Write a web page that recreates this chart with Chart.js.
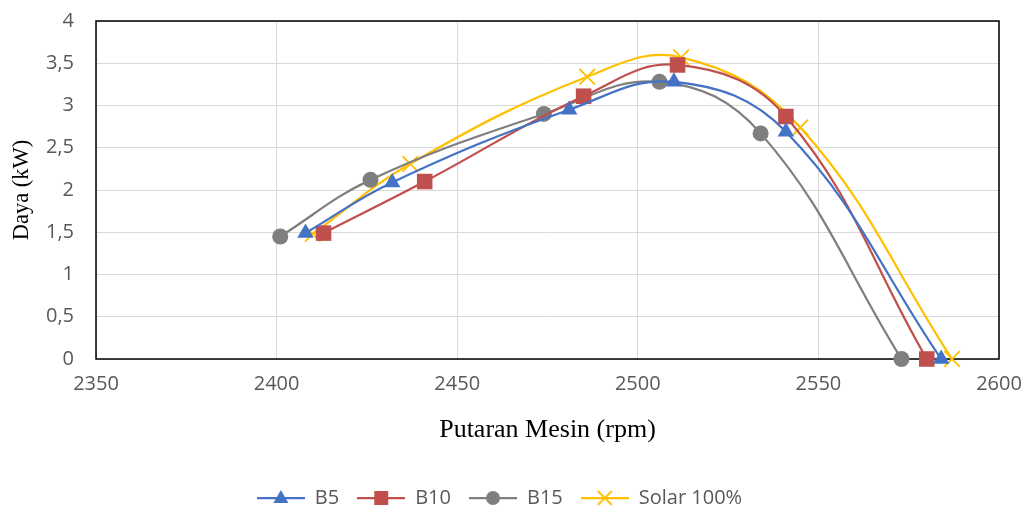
<!DOCTYPE html>
<html>
<head>
<meta charset="utf-8">
<script src="https://cdn.jsdelivr.net/npm/chart.js@4.4.1/dist/chart.umd.min.js"></script>
<style>
  html, body { margin: 0; padding: 0; background: #fff; }
  #wrap { width: 1025px; height: 506px; position: relative; }
</style>
</head>
<body>
<div id="wrap"><canvas id="chart"></canvas></div>
<script>
// Data
const seriesNames = ['B5', 'B10', 'B15', 'Solar 100%'];
const rpmB5 = [2408, 2432, 2481, 2510, 2541, 2584];
const dayaB5 = [1.49, 2.09, 2.95, 3.28, 2.69, 0];
const rpmB10 = [2413, 2441, 2485, 2511, 2541, 2580];
const dayaB10 = [1.49, 2.1, 3.11, 3.48, 2.87, 0];
const rpmB15 = [2401, 2426, 2474, 2506, 2534, 2573];
const dayaB15 = [1.45, 2.12, 2.9, 3.28, 2.67, 0];
const rpmSolar = [2410, 2437, 2486, 2512, 2545, 2587];
const dayaSolar = [1.48, 2.31, 3.34, 3.57, 2.74, 0];
const xTicks = [2350, 2400, 2450, 2500, 2550, 2600];
const yTicks = [0, 0.5, 1, 1.5, 2, 2.5, 3, 3.5, 4];

const colors = ['#4472C4', '#C0504D', '#7F7F7F', '#FFC000'];
const styles = ['triangle', 'rect', 'circle', 'crossRot'];
const radii = [9.5, 11, 8, 11];

function toPoints(xs, ys) {
  return xs.map((x, i) => ({ x: x, y: ys[i] }));
}

// Small line + marker icon for the legend (Excel style)
function legendIcon(color, style) {
  const c = document.createElement('canvas');
  c.width = 48; c.height = 20;
  const g = c.getContext('2d');
  g.strokeStyle = color; g.fillStyle = color; g.lineWidth = 2.25;
  g.beginPath(); g.moveTo(0, 10); g.lineTo(48, 10); g.stroke();
  const cx = 24, cy = 10;
  g.beginPath();
  if (style === 'triangle') {
    g.moveTo(cx, cy - 8); g.lineTo(cx + 7.5, cy + 5); g.lineTo(cx - 7.5, cy + 5); g.closePath(); g.fill();
  } else if (style === 'rect') {
    g.rect(cx - 7, cy - 7, 14, 14); g.fill();
  } else if (style === 'circle') {
    g.arc(cx, cy, 7, 0, Math.PI * 2); g.fill();
  } else {
    g.lineWidth = 1.8;
    g.moveTo(cx - 7, cy - 7); g.lineTo(cx + 7, cy + 7);
    g.moveTo(cx + 7, cy - 7); g.lineTo(cx - 7, cy + 7); g.stroke();
  }
  return c;
}

const allX = [rpmB5, rpmB10, rpmB15, rpmSolar];
const allY = [dayaB5, dayaB10, dayaB15, dayaSolar];

const datasets = seriesNames.map((name, i) => ({
  label: name,
  data: toPoints(allX[i], allY[i]),
  showLine: true,
  tension: 0.4,
  borderColor: colors[i],
  backgroundColor: colors[i],
  borderWidth: 2.25,
  pointStyle: styles[i],
  pointRadius: radii[i],
  pointHoverRadius: radii[i],
  pointBorderWidth: i === 3 ? 1.8 : 0,
  pointBorderColor: colors[i],
  clip: false
}));

// Black frame around the plot area, drawn under the markers
const frame = {
  id: 'frame',
  beforeDatasetsDraw(chart) {
    const a = chart.chartArea, ctx = chart.ctx;
    ctx.save();
    ctx.strokeStyle = '#000';
    ctx.lineWidth = 1.5;
    ctx.strokeRect(a.left, a.top, a.right - a.left, a.bottom - a.top);
    ctx.restore();
  }
};

const tickFont = { family: '"Open Sans", sans-serif', size: 20 };
const serif = '"Liberation Serif", "Times New Roman", serif';

new Chart(document.getElementById('chart'), {
  type: 'scatter',
  data: { datasets: datasets },
  plugins: [frame],
  options: {
    responsive: true,
    maintainAspectRatio: false,
    animation: false,
    layout: { padding: { left: 0, right: 26, top: 21, bottom: -12 } },
    plugins: {
      tooltip: { enabled: false },
      legend: {
        position: 'bottom',
        labels: {
          usePointStyle: true,
          pointStyleWidth: 48,
          padding: 18,
          color: '#595959',
          font: tickFont,
          generateLabels: () => seriesNames.map((name, i) => ({
            text: name,
            pointStyle: legendIcon(colors[i], styles[i]),
            fontColor: '#595959',
            lineWidth: 0,
            strokeStyle: 'transparent',
            fillStyle: 'transparent',
            datasetIndex: i
          }))
        }
      }
    },
    scales: {
      x: {
        type: 'linear',
        min: xTicks[0],
        max: xTicks[xTicks.length - 1],
        afterBuildTicks: s => { s.ticks = xTicks.map(v => ({ value: v })); },
        afterFit: s => { s.height = 111; s.paddingLeft = 0; s.paddingRight = 0; },
        grid: { color: '#d9d9d9', lineWidth: 1, drawTicks: false },
        border: { display: false },
        ticks: { color: '#595959', font: tickFont, padding: 13, maxRotation: 0, callback: v => String(v) },
        title: { display: true, text: 'Putaran Mesin (rpm)', color: '#000', font: { family: serif, size: 26 }, padding: { top: 24, bottom: 24 } }
      },
      y: {
        min: 0,
        max: 4,
        afterBuildTicks: s => { s.ticks = yTicks.map(v => ({ value: v })); },
        afterFit: s => { s.width = 96; s.paddingTop = 0; s.paddingBottom = 0; },
        grid: { color: '#d9d9d9', lineWidth: 1, drawTicks: false },
        border: { display: false },
        ticks: { color: '#595959', font: tickFont, padding: 22, callback: v => String(v).replace('.', ',') },
        title: { display: true, text: 'Daya (kW)', color: '#000', font: { family: serif, size: 22.5 }, padding: { top: 9, bottom: 9 } }
      }
    }
  }
});
</script>
</body>
</html>
